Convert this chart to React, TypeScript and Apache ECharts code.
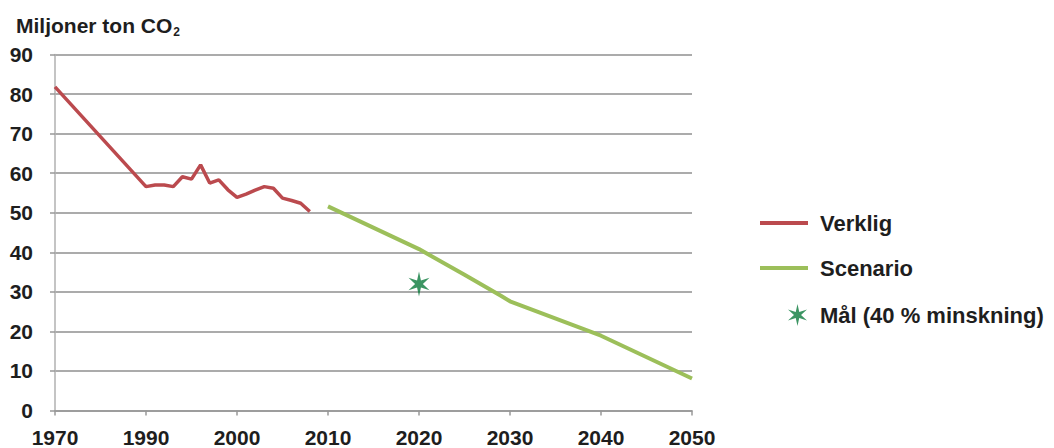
import React, { useEffect, useRef } from 'react';
import * as echarts from 'echarts';

// Category axis: 1970, then a compressed gap (blank slots), then 1990..2050
const gapSlots = ['', '', '', '', '', '', '', '', ''];
const laterYears = Array.from({ length: 61 }, (_, i) => String(1990 + i));
const categories = ['1970', ...gapSlots, ...laterYears];

const yTicks = [0, 10, 20, 30, 40, 50, 60, 70, 80, 90];

const verkligYears = [1970, 1990, 1991, 1992, 1993, 1994, 1995, 1996, 1997, 1998, 1999, 2000, 2001, 2002, 2003, 2004, 2005, 2006, 2007, 2008];
const verkligValues = [81.8, 56.6, 57.0, 57.0, 56.6, 59.1, 58.5, 62.1, 57.5, 58.3, 55.8, 53.9, 54.7, 55.7, 56.6, 56.2, 53.7, 53.1, 52.4, 50.3];

const scenarioYears = [2010, 2020, 2025, 2029, 2030, 2040, 2050];
const scenarioValues = [51.6, 40.8, 34.3, 29.0, 27.6, 18.9, 8.1];

const malYears = [2020];
const malValues = [32];

const FONT = "'Liberation Sans', Arial, sans-serif";
const TEXT = '#1e1e1e';
const RED = '#bb4a4e';
const GREEN = '#9cbf5a';
const STAR = '#0b7a3c';

function starPath(): string {
  const pts: string[] = [];
  for (let i = 0; i < 12; i++) {
    const a = ((-90 + i * 30) * Math.PI) / 180;
    const r = i % 2 === 0 ? 10 : 3.2;
    pts.push(`${(r * Math.cos(a)).toFixed(3)},${(r * Math.sin(a)).toFixed(3)}`);
  }
  return 'path://M' + pts.join('L') + 'Z';
}

const idx = (y: number) => categories.indexOf(String(y));

export default function App() {
  const ref = useRef<HTMLDivElement>(null);
  useEffect(() => {
    if (!ref.current) return;
    const chart = echarts.init(ref.current, null, { renderer: 'svg' });
    const star = starPath();
    chart.setOption({
      animation: false,
      backgroundColor: '#ffffff',
      textStyle: { fontFamily: FONT },
      title: {
        text: '{a|Miljoner ton CO}{s|2}',
        left: 11,
        top: 7,
        textStyle: {
          rich: {
            a: { fontFamily: FONT, fontSize: 21, fontWeight: 'bold', color: TEXT, lineHeight: 26 },
            s: { fontFamily: FONT, fontSize: 12, fontWeight: 'bold', color: TEXT, padding: [14, 0, 0, 1], lineHeight: 26 },
          },
        },
      },
      grid: { left: 55, right: 362, top: 54.5, bottom: 37.5, containLabel: false },
      xAxis: {
        type: 'category',
        data: categories,
        boundaryGap: false,
        axisLine: { show: true, lineStyle: { color: '#999999', width: 1.5 } },
        axisTick: { show: true, length: 5, interval: (i: number) => i % 10 === 0, lineStyle: { color: '#999999', width: 1.5 } },
        axisLabel: {
          interval: (i: number) => i % 10 === 0,
          margin: 16,
          fontFamily: FONT,
          fontSize: 21,
          fontWeight: 'bold',
          color: TEXT,
        },
        splitLine: { show: false },
      },
      yAxis: {
        type: 'value',
        min: 0,
        max: 90,
        interval: 10,
        axisLine: { show: true, lineStyle: { color: '#b0b0b0', width: 1.5 } },
        axisTick: { show: true, length: 5, lineStyle: { color: '#999999', width: 1.5 } },
        axisLabel: {
          margin: 22,
          fontFamily: FONT,
          fontSize: 21,
          fontWeight: 'bold',
          color: TEXT,
          formatter: (v: number) => (yTicks.includes(v) ? String(v) : ''),
        },
        splitLine: { show: true, lineStyle: { color: '#8f8f8f', width: 1.5 } },
      },
      legend: [
        {
          data: [
            { name: 'Verklig', icon: 'rect' },
            { name: 'Scenario', icon: 'rect' },
          ],
          orient: 'vertical',
          left: 755,
          top: 206,
          itemWidth: 48,
          itemHeight: 4,
          itemGap: 21,
          selectedMode: false,
          textStyle: { fontFamily: FONT, fontSize: 22, fontWeight: 'bold', color: TEXT, lineHeight: 24, padding: [0, 0, 0, 7] },
        },
        {
          data: [{ name: 'Mål (40 % minskning)', icon: star, itemStyle: { color: STAR } }],
          orient: 'vertical',
          left: 783,
          top: 298,
          itemWidth: 19,
          itemHeight: 22,
          selectedMode: false,
          textStyle: { fontFamily: FONT, fontSize: 22, fontWeight: 'bold', color: TEXT, lineHeight: 24, padding: [0, 0, 0, 8] },
        },
      ],
      series: [
        {
          name: 'Verklig',
          type: 'line',
          data: verkligYears.map((y, i) => [idx(y), verkligValues[i]]),
          showSymbol: false,
          symbol: 'none',
          color: RED,
          lineStyle: { color: RED, width: 3.5 },
          z: 3,
        },
        {
          name: 'Scenario',
          type: 'line',
          data: scenarioYears.map((y, i) => [idx(y), scenarioValues[i]]),
          showSymbol: false,
          symbol: 'none',
          color: GREEN,
          lineStyle: { color: GREEN, width: 4 },
          z: 3,
        },
        {
          name: 'Mål (40 % minskning)',
          type: 'scatter',
          data: malYears.map((y, i) => [idx(y), malValues[i]]),
          symbol: star,
          symbolSize: [21, 25],
          itemStyle: { color: STAR },
          z: 4,
        },
      ],
    });
    return () => chart.dispose();
  }, []);
  return <div ref={ref} style={{ width: 1054, height: 448, position: 'absolute', left: 0, top: 0 }} />;
}
